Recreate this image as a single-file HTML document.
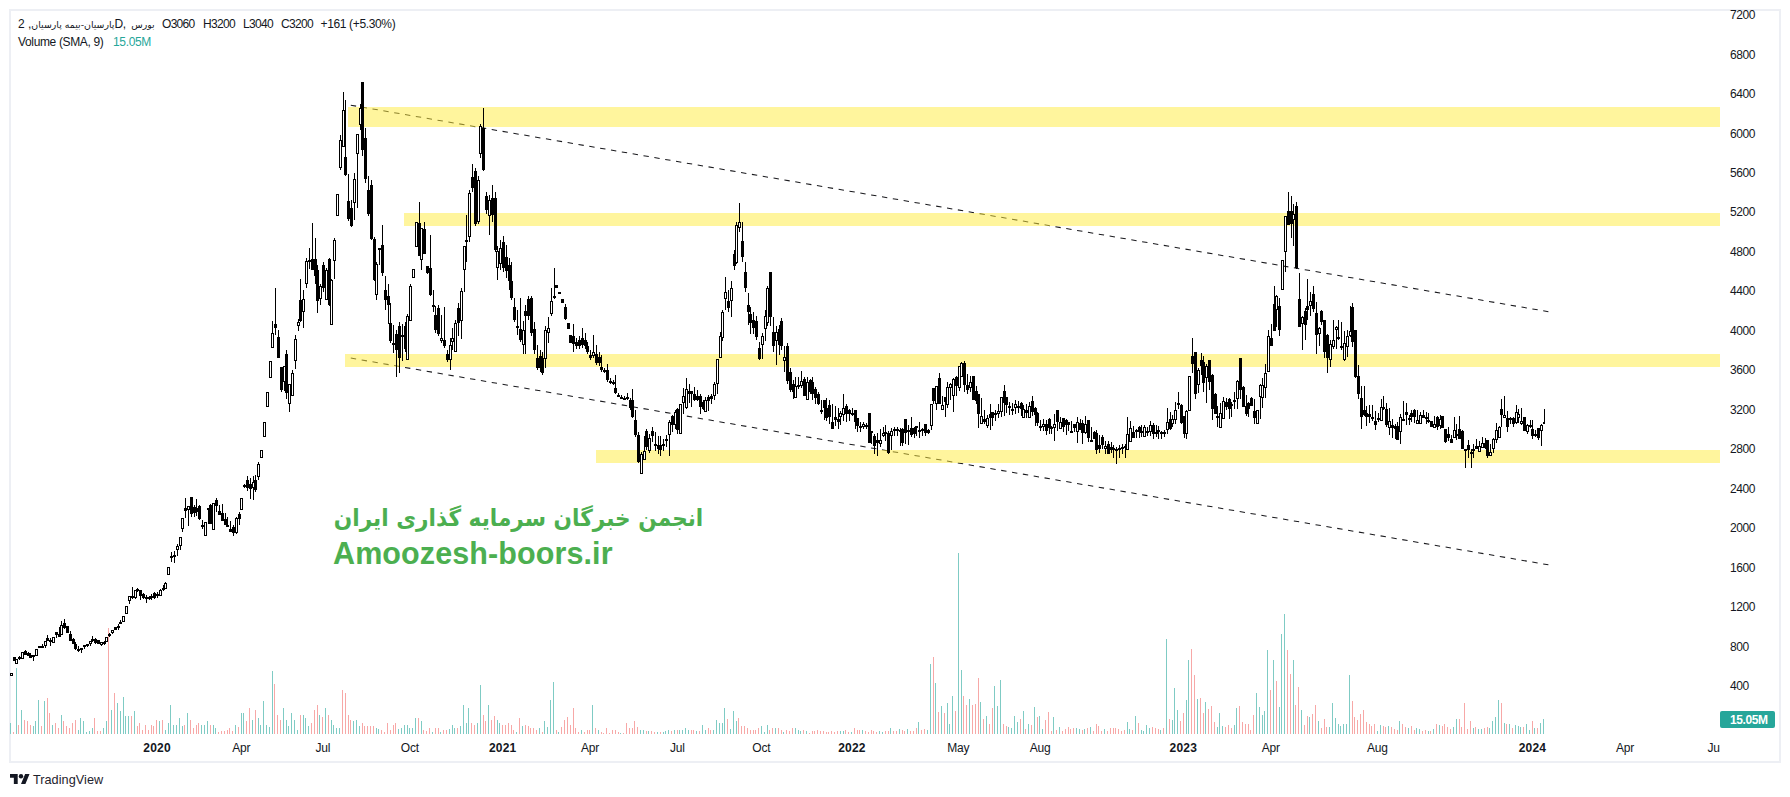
<!DOCTYPE html>
<html lang="fa"><head><meta charset="utf-8"><title>TradingView chart</title>
<style>
html,body{margin:0;padding:0;background:#fff;}
body{width:1790px;height:797px;position:relative;overflow:hidden;font-family:"Liberation Sans","DejaVu Sans",sans-serif;color:#131722;}
#frame{position:absolute;left:9px;top:9px;width:1768px;height:750px;border:2px solid #edeff4;box-sizing:content-box;}
svg#chart{position:absolute;left:0;top:0;}
.pl{position:absolute;left:1730px;width:40px;font-size:12px;line-height:16px;letter-spacing:-0.45px;white-space:nowrap;}
#taxis{position:absolute;left:10px;top:740px;width:1710px;height:20px;overflow:hidden;}
.tl{position:absolute;top:0;width:60px;margin-left:-10px;text-align:center;font-size:12px;line-height:16px;letter-spacing:-0.2px;white-space:nowrap;}
.tl.b{font-weight:bold;letter-spacing:0.2px;}
.lg{position:absolute;font-size:12px;line-height:16px;white-space:nowrap;letter-spacing:-0.35px;}
.lg .fa{font-family:"DejaVu Sans",sans-serif;font-size:9.4px;letter-spacing:0;}
.lg .fa.b2{margin-left:2.5px;}
.lg.nm{letter-spacing:-0.7px;}
#vlab{position:absolute;left:1720px;top:711px;width:55px;height:17px;background:#26a69a;color:#fff;font-size:12px;font-weight:bold;line-height:17px;border-radius:2px;letter-spacing:-0.4px;}
#vlab span{position:absolute;left:10px;top:1px;}
#wm1{position:absolute;left:333px;top:496.9px;transform:scaleY(1.068);transform-origin:0 29.4px;width:370.3px;height:44px;color:#4caf50;font-weight:bold;font-family:"DejaVu Sans","Liberation Sans",sans-serif;font-size:21.65px;line-height:44px;white-space:nowrap;direction:rtl;text-align:right;}
#wm2{position:absolute;left:333px;top:536px;color:#4caf50;font-weight:bold;font-size:30.5px;line-height:34px;white-space:nowrap;letter-spacing:0.1px;}
#tv{position:absolute;left:32.9px;top:772px;font-size:12.7px;line-height:16px;color:#1e222d;white-space:nowrap;letter-spacing:0.05px;}
</style></head><body>
<div id="frame"></div>
<svg id="chart" width="1790" height="797" viewBox="0 0 1790 797">
<line x1="350.8" y1="105.2" x2="1548.4" y2="311.7" stroke="#1a1a1e" stroke-width="1.05" stroke-dasharray="5.4 5.6"/>
<line x1="350.8" y1="358.1" x2="1548.4" y2="564.85" stroke="#1a1a1e" stroke-width="1.05" stroke-dasharray="5.4 5.6"/>
<g shape-rendering="crispEdges">
<path fill="#7fcbc4" d="M10 723h1v11h-1zM16 668h1v66h-1zM21 710h1v24h-1zM33 726h1v8h-1zM35 721h1v13h-1zM38 700h1v34h-1zM44 701h1v33h-1zM52 725h1v9h-1zM61 715h1v19h-1zM78 730h1v4h-1zM80 718h1v16h-1zM83 721h1v13h-1zM86 732h1v2h-1zM89 731h1v3h-1zM92 728h1v6h-1zM103 728h1v6h-1zM106 721h1v13h-1zM111 710h1v24h-1zM117 703h1v31h-1zM120 711h1v23h-1zM123 697h1v37h-1zM125 716h1v18h-1zM128 716h1v18h-1zM134 711h1v23h-1zM159 721h1v13h-1zM165 730h1v4h-1zM168 723h1v11h-1zM170 705h1v29h-1zM173 725h1v9h-1zM176 725h1v9h-1zM179 718h1v16h-1zM182 726h1v8h-1zM187 713h1v21h-1zM201 725h1v9h-1zM204 725h1v9h-1zM207 721h1v13h-1zM213 725h1v9h-1zM215 728h1v6h-1zM235 725h1v9h-1zM241 713h1v21h-1zM243 713h1v21h-1zM252 720h1v14h-1zM258 718h1v16h-1zM260 725h1v9h-1zM263 701h1v33h-1zM266 725h1v9h-1zM269 727h1v7h-1zM272 671h1v63h-1zM283 708h1v26h-1zM286 720h1v14h-1zM288 726h1v8h-1zM291 713h1v21h-1zM294 720h1v14h-1zM297 730h1v4h-1zM303 715h1v19h-1zM305 718h1v16h-1zM308 726h1v8h-1zM319 715h1v19h-1zM325 708h1v26h-1zM331 720h1v14h-1zM333 725h1v9h-1zM336 728h1v6h-1zM339 728h1v6h-1zM353 721h1v13h-1zM356 720h1v14h-1zM359 726h1v8h-1zM376 728h1v6h-1zM378 729h1v5h-1zM398 729h1v5h-1zM401 728h1v6h-1zM404 725h1v9h-1zM407 725h1v9h-1zM409 728h1v6h-1zM412 728h1v6h-1zM415 718h1v16h-1zM421 721h1v13h-1zM432 732h1v2h-1zM440 732h1v2h-1zM449 729h1v5h-1zM452 725h1v9h-1zM454 728h1v6h-1zM460 726h1v8h-1zM463 705h1v29h-1zM466 723h1v11h-1zM468 708h1v26h-1zM477 723h1v11h-1zM480 685h1v49h-1zM488 705h1v29h-1zM497 720h1v14h-1zM499 723h1v11h-1zM516 732h1v2h-1zM522 726h1v8h-1zM539 728h1v6h-1zM544 721h1v13h-1zM547 727h1v7h-1zM550 700h1v34h-1zM553 682h1v52h-1zM558 732h1v2h-1zM581 730h1v4h-1zM592 705h1v29h-1zM598 730h1v4h-1zM620 733h1v1h-1zM640 730h1v4h-1zM643 730h1v4h-1zM648 731h1v3h-1zM657 732h1v2h-1zM663 732h1v2h-1zM665 731h1v3h-1zM668 730h1v4h-1zM674 730h1v4h-1zM679 730h1v4h-1zM682 730h1v4h-1zM685 728h1v6h-1zM688 730h1v4h-1zM696 731h1v3h-1zM702 725h1v9h-1zM705 730h1v4h-1zM713 730h1v4h-1zM716 720h1v14h-1zM719 723h1v11h-1zM722 723h1v11h-1zM724 708h1v26h-1zM730 729h1v5h-1zM733 711h1v23h-1zM736 721h1v13h-1zM761 726h1v8h-1zM764 732h1v2h-1zM767 725h1v9h-1zM775 728h1v6h-1zM783 732h1v2h-1zM795 728h1v6h-1zM798 730h1v4h-1zM800 731h1v3h-1zM806 731h1v3h-1zM840 731h1v3h-1zM843 731h1v3h-1zM851 732h1v2h-1zM862 730h1v4h-1zM879 731h1v3h-1zM882 732h1v2h-1zM890 728h1v6h-1zM899 729h1v5h-1zM907 729h1v5h-1zM918 722h1v12h-1zM927 730h1v4h-1zM930 664h1v70h-1zM935 683h1v51h-1zM941 706h1v28h-1zM947 703h1v31h-1zM949 724h1v10h-1zM952 696h1v38h-1zM958 553h1v181h-1zM961 670h1v64h-1zM969 699h1v35h-1zM980 702h1v32h-1zM986 716h1v18h-1zM994 686h1v48h-1zM997 706h1v28h-1zM1000 680h1v54h-1zM1008 727h1v7h-1zM1011 728h1v6h-1zM1014 716h1v18h-1zM1017 722h1v12h-1zM1023 711h1v23h-1zM1028 724h1v10h-1zM1034 707h1v27h-1zM1039 716h1v18h-1zM1042 729h1v5h-1zM1053 717h1v17h-1zM1059 727h1v7h-1zM1076 728h1v6h-1zM1079 729h1v5h-1zM1084 729h1v5h-1zM1090 727h1v7h-1zM1104 729h1v5h-1zM1127 722h1v12h-1zM1129 729h1v5h-1zM1135 716h1v18h-1zM1141 730h1v4h-1zM1143 731h1v3h-1zM1146 725h1v9h-1zM1149 728h1v6h-1zM1160 730h1v4h-1zM1166 639h1v95h-1zM1172 720h1v14h-1zM1174 688h1v46h-1zM1177 710h1v24h-1zM1186 700h1v34h-1zM1188 660h1v74h-1zM1197 699h1v35h-1zM1205 702h1v32h-1zM1217 727h1v7h-1zM1219 713h1v21h-1zM1222 726h1v8h-1zM1234 725h1v9h-1zM1236 708h1v26h-1zM1256 693h1v41h-1zM1259 707h1v27h-1zM1262 715h1v19h-1zM1264 711h1v23h-1zM1267 650h1v84h-1zM1273 660h1v74h-1zM1279 707h1v27h-1zM1281 634h1v100h-1zM1284 614h1v120h-1zM1293 660h1v74h-1zM1301 710h1v24h-1zM1309 717h1v17h-1zM1318 721h1v13h-1zM1329 727h1v7h-1zM1332 703h1v31h-1zM1335 718h1v16h-1zM1338 724h1v10h-1zM1340 726h1v8h-1zM1343 724h1v10h-1zM1346 724h1v10h-1zM1349 675h1v59h-1zM1377 731h1v3h-1zM1380 725h1v9h-1zM1388 726h1v8h-1zM1399 721h1v13h-1zM1408 728h1v6h-1zM1416 728h1v6h-1zM1419 729h1v5h-1zM1428 731h1v3h-1zM1433 729h1v5h-1zM1439 725h1v9h-1zM1453 727h1v7h-1zM1456 719h1v15h-1zM1473 728h1v6h-1zM1478 729h1v5h-1zM1481 729h1v5h-1zM1489 728h1v6h-1zM1492 721h1v13h-1zM1495 717h1v17h-1zM1498 700h1v34h-1zM1504 723h1v11h-1zM1509 724h1v10h-1zM1515 725h1v9h-1zM1518 726h1v8h-1zM1520 727h1v7h-1zM1526 724h1v10h-1zM1529 730h1v4h-1zM1534 728h1v6h-1zM1540 723h1v11h-1zM1543 719h1v15h-1z"/>
<path fill="#f7a8a7" d="M13 732h1v2h-1zM18 725h1v9h-1zM24 720h1v14h-1zM27 721h1v13h-1zM30 725h1v9h-1zM41 726h1v8h-1zM47 698h1v36h-1zM49 713h1v21h-1zM55 723h1v11h-1zM58 728h1v6h-1zM63 721h1v13h-1zM66 726h1v8h-1zM69 728h1v6h-1zM72 723h1v11h-1zM75 720h1v14h-1zM94 718h1v16h-1zM97 731h1v3h-1zM100 731h1v3h-1zM108 628h1v106h-1zM114 693h1v41h-1zM131 716h1v18h-1zM137 726h1v8h-1zM139 723h1v11h-1zM142 730h1v4h-1zM145 725h1v9h-1zM148 730h1v4h-1zM151 725h1v9h-1zM153 726h1v8h-1zM156 720h1v14h-1zM162 720h1v14h-1zM184 725h1v9h-1zM190 720h1v14h-1zM193 728h1v6h-1zM196 725h1v9h-1zM198 723h1v11h-1zM210 725h1v9h-1zM218 732h1v2h-1zM221 731h1v3h-1zM224 731h1v3h-1zM227 730h1v4h-1zM229 728h1v6h-1zM232 731h1v3h-1zM238 727h1v7h-1zM246 721h1v13h-1zM249 708h1v26h-1zM255 710h1v24h-1zM274 684h1v50h-1zM277 715h1v19h-1zM280 720h1v14h-1zM300 715h1v19h-1zM311 723h1v11h-1zM314 710h1v24h-1zM317 705h1v29h-1zM322 717h1v17h-1zM328 715h1v19h-1zM342 690h1v44h-1zM345 693h1v41h-1zM348 715h1v19h-1zM350 720h1v14h-1zM362 723h1v11h-1zM364 726h1v8h-1zM367 726h1v8h-1zM370 726h1v8h-1zM373 726h1v8h-1zM381 730h1v4h-1zM384 732h1v2h-1zM387 723h1v11h-1zM390 730h1v4h-1zM393 725h1v9h-1zM395 723h1v11h-1zM418 718h1v16h-1zM423 730h1v4h-1zM426 731h1v3h-1zM429 728h1v6h-1zM435 728h1v6h-1zM438 728h1v6h-1zM443 730h1v4h-1zM446 730h1v4h-1zM457 728h1v6h-1zM471 723h1v11h-1zM474 725h1v9h-1zM483 715h1v19h-1zM485 721h1v13h-1zM491 720h1v14h-1zM494 716h1v18h-1zM502 725h1v9h-1zM505 725h1v9h-1zM508 723h1v11h-1zM511 725h1v9h-1zM513 730h1v4h-1zM519 718h1v16h-1zM525 725h1v9h-1zM528 726h1v8h-1zM530 728h1v6h-1zM533 728h1v6h-1zM536 730h1v4h-1zM542 732h1v2h-1zM556 730h1v4h-1zM561 727h1v7h-1zM564 720h1v14h-1zM567 717h1v17h-1zM570 725h1v9h-1zM573 708h1v26h-1zM575 728h1v6h-1zM578 732h1v2h-1zM584 732h1v2h-1zM587 730h1v4h-1zM589 730h1v4h-1zM595 728h1v6h-1zM601 732h1v2h-1zM603 733h1v1h-1zM606 728h1v6h-1zM609 733h1v1h-1zM612 730h1v4h-1zM615 730h1v4h-1zM618 732h1v2h-1zM623 733h1v1h-1zM626 723h1v11h-1zM629 728h1v6h-1zM632 728h1v6h-1zM634 721h1v13h-1zM637 727h1v7h-1zM646 731h1v3h-1zM651 731h1v3h-1zM654 732h1v2h-1zM660 732h1v2h-1zM671 731h1v3h-1zM677 730h1v4h-1zM691 730h1v4h-1zM693 730h1v4h-1zM699 731h1v3h-1zM708 728h1v6h-1zM710 730h1v4h-1zM727 719h1v15h-1zM738 718h1v16h-1zM741 726h1v8h-1zM744 726h1v8h-1zM747 728h1v6h-1zM750 730h1v4h-1zM753 730h1v4h-1zM755 730h1v4h-1zM758 728h1v6h-1zM769 730h1v4h-1zM772 728h1v6h-1zM778 728h1v6h-1zM781 730h1v4h-1zM786 730h1v4h-1zM789 731h1v3h-1zM792 728h1v6h-1zM803 730h1v4h-1zM809 733h1v1h-1zM812 731h1v3h-1zM814 731h1v3h-1zM817 730h1v4h-1zM820 731h1v3h-1zM823 731h1v3h-1zM826 732h1v2h-1zM828 732h1v2h-1zM831 731h1v3h-1zM834 732h1v2h-1zM837 731h1v3h-1zM845 730h1v4h-1zM848 732h1v2h-1zM854 728h1v6h-1zM857 730h1v4h-1zM859 730h1v4h-1zM865 731h1v3h-1zM868 732h1v2h-1zM871 730h1v4h-1zM873 731h1v3h-1zM876 732h1v2h-1zM885 731h1v3h-1zM888 731h1v3h-1zM893 731h1v3h-1zM896 731h1v3h-1zM902 730h1v4h-1zM904 731h1v3h-1zM910 731h1v3h-1zM913 731h1v3h-1zM916 728h1v6h-1zM921 730h1v4h-1zM924 729h1v5h-1zM933 657h1v77h-1zM938 712h1v22h-1zM944 713h1v21h-1zM955 711h1v23h-1zM963 696h1v38h-1zM966 705h1v29h-1zM972 705h1v29h-1zM975 704h1v30h-1zM978 678h1v56h-1zM983 719h1v15h-1zM989 724h1v10h-1zM992 708h1v26h-1zM1003 724h1v10h-1zM1006 726h1v8h-1zM1020 719h1v15h-1zM1025 729h1v5h-1zM1031 725h1v9h-1zM1037 717h1v17h-1zM1045 720h1v14h-1zM1048 712h1v22h-1zM1051 731h1v3h-1zM1056 730h1v4h-1zM1062 731h1v3h-1zM1065 729h1v5h-1zM1068 727h1v7h-1zM1070 729h1v5h-1zM1073 728h1v6h-1zM1082 730h1v4h-1zM1087 728h1v6h-1zM1093 731h1v3h-1zM1096 724h1v10h-1zM1098 726h1v8h-1zM1101 731h1v3h-1zM1107 731h1v3h-1zM1110 728h1v6h-1zM1113 728h1v6h-1zM1115 728h1v6h-1zM1118 729h1v5h-1zM1121 731h1v3h-1zM1124 730h1v4h-1zM1132 730h1v4h-1zM1138 723h1v11h-1zM1152 727h1v7h-1zM1155 728h1v6h-1zM1158 729h1v5h-1zM1163 728h1v6h-1zM1169 719h1v15h-1zM1180 721h1v13h-1zM1183 713h1v21h-1zM1191 649h1v85h-1zM1194 675h1v59h-1zM1200 698h1v36h-1zM1203 713h1v21h-1zM1208 709h1v25h-1zM1211 706h1v28h-1zM1214 722h1v12h-1zM1225 727h1v7h-1zM1228 725h1v9h-1zM1231 728h1v6h-1zM1239 706h1v28h-1zM1242 722h1v12h-1zM1245 724h1v10h-1zM1248 724h1v10h-1zM1250 730h1v4h-1zM1253 715h1v19h-1zM1270 690h1v44h-1zM1276 681h1v53h-1zM1287 650h1v84h-1zM1290 674h1v60h-1zM1295 705h1v29h-1zM1298 687h1v47h-1zM1304 725h1v9h-1zM1307 716h1v18h-1zM1312 714h1v20h-1zM1315 705h1v29h-1zM1321 728h1v6h-1zM1324 719h1v15h-1zM1326 727h1v7h-1zM1352 701h1v33h-1zM1354 717h1v17h-1zM1357 720h1v14h-1zM1360 714h1v20h-1zM1363 710h1v24h-1zM1366 722h1v12h-1zM1369 724h1v10h-1zM1371 726h1v8h-1zM1374 724h1v10h-1zM1383 726h1v8h-1zM1385 727h1v7h-1zM1391 727h1v7h-1zM1394 729h1v5h-1zM1397 730h1v4h-1zM1402 724h1v10h-1zM1405 727h1v7h-1zM1411 726h1v8h-1zM1414 730h1v4h-1zM1422 731h1v3h-1zM1425 730h1v4h-1zM1430 731h1v3h-1zM1436 724h1v10h-1zM1442 726h1v8h-1zM1444 724h1v10h-1zM1447 727h1v7h-1zM1450 729h1v5h-1zM1459 719h1v15h-1zM1461 727h1v7h-1zM1464 703h1v31h-1zM1467 729h1v5h-1zM1470 721h1v13h-1zM1475 727h1v7h-1zM1484 728h1v6h-1zM1487 727h1v7h-1zM1501 703h1v31h-1zM1506 724h1v10h-1zM1512 728h1v6h-1zM1523 727h1v7h-1zM1532 721h1v13h-1zM1537 728h1v6h-1z"/>
<g fill="#ffeb3b" fill-opacity="0.5">
<rect x="348" y="107" width="1372" height="20"/>
<rect x="404" y="213" width="1316" height="13"/>
<rect x="345" y="354" width="1375" height="13"/>
<rect x="596" y="450" width="1124" height="13"/>
</g>
</g>
<g shape-rendering="crispEdges">
<path fill="#000" d="M10 673h1v3h-1zM11 673h1v1h-1zM11 675h1v1h-1zM12 673h1v3h-1zM13 657h1v4h-1zM14 657h1v4h-1zM15 657h1v7h-1zM16 659h1v1h-1zM16 663h1v1h-1zM17 659h1v5h-1zM18 657h1v2h-1zM19 656h1v4h-1zM20 657h1v2h-1zM21 652h1v7h-1zM22 652h1v1h-1zM22 658h1v1h-1zM23 652h1v7h-1zM24 651h1v4h-1zM25 650h1v5h-1zM26 651h1v4h-1zM27 653h1v3h-1zM28 652h1v4h-1zM29 653h1v5h-1zM30 653h1v5h-1zM31 655h1v3h-1zM32 655h1v2h-1zM33 655h1v6h-1zM34 655h1v2h-1zM35 649h1v7h-1zM36 649h1v1h-1zM36 655h1v1h-1zM37 649h1v7h-1zM38 646h1v2h-1zM39 646h1v2h-1zM40 646h1v2h-1zM41 646h1v2h-1zM42 644h1v4h-1zM43 646h1v2h-1zM44 641h1v5h-1zM45 641h1v1h-1zM45 645h1v3h-1zM46 638h1v8h-1zM47 635h1v6h-1zM48 638h1v3h-1zM49 640h1v2h-1zM50 638h1v8h-1zM51 640h1v2h-1zM52 637h1v6h-1zM53 637h1v1h-1zM53 642h1v1h-1zM54 637h1v6h-1zM55 632h1v3h-1zM56 632h1v6h-1zM57 632h1v3h-1zM58 634h1v3h-1zM59 627h1v10h-1zM60 625h1v12h-1zM61 621h1v5h-1zM61 634h1v1h-1zM62 625h1v10h-1zM63 623h1v5h-1zM64 619h1v10h-1zM65 623h1v5h-1zM66 626h1v7h-1zM67 626h1v7h-1zM68 626h1v7h-1zM69 634h1v7h-1zM70 631h1v10h-1zM71 634h1v7h-1zM72 639h1v5h-1zM73 638h1v6h-1zM74 639h1v10h-1zM75 642h1v8h-1zM76 644h1v5h-1zM77 649h1v2h-1zM78 646h1v6h-1zM79 649h1v2h-1zM80 648h1v2h-1zM81 648h1v5h-1zM82 648h1v2h-1zM83 645h1v2h-1zM84 645h1v4h-1zM85 645h1v2h-1zM86 644h1v2h-1zM87 644h1v3h-1zM88 644h1v2h-1zM89 641h1v3h-1zM90 641h1v1h-1zM90 643h1v3h-1zM91 639h1v5h-1zM92 636h1v6h-1zM93 639h1v2h-1zM94 639h1v4h-1zM95 638h1v6h-1zM96 639h1v4h-1zM97 640h1v4h-1zM98 640h1v4h-1zM99 640h1v4h-1zM100 642h1v3h-1zM101 642h1v1h-1zM101 644h1v2h-1zM102 642h1v3h-1zM103 642h1v2h-1zM104 641h1v4h-1zM105 637h1v7h-1zM106 637h1v1h-1zM106 641h1v1h-1zM107 637h1v5h-1zM108 634h1v2h-1zM109 633h1v4h-1zM110 634h1v2h-1zM111 630h1v3h-1zM112 630h1v1h-1zM112 632h1v2h-1zM113 630h1v3h-1zM114 627h1v3h-1zM115 627h1v3h-1zM116 627h1v3h-1zM117 626h1v2h-1zM118 624h1v6h-1zM119 622h1v2h-1zM119 626h1v2h-1zM120 620h1v4h-1zM121 622h1v2h-1zM122 616h1v6h-1zM123 616h1v1h-1zM123 621h1v1h-1zM124 616h1v6h-1zM125 606h1v8h-1zM126 606h1v1h-1zM126 613h1v1h-1zM127 606h1v8h-1zM128 596h1v5h-1zM129 596h1v1h-1zM129 600h1v4h-1zM130 596h1v5h-1zM131 596h1v2h-1zM132 587h1v12h-1zM133 596h1v2h-1zM134 590h1v8h-1zM135 590h1v1h-1zM135 597h1v2h-1zM136 589h1v9h-1zM137 588h1v4h-1zM138 589h1v2h-1zM139 590h1v6h-1zM140 590h1v10h-1zM141 590h1v6h-1zM142 594h1v4h-1zM143 593h1v6h-1zM144 594h1v4h-1zM145 597h1v2h-1zM146 595h1v8h-1zM147 597h1v2h-1zM148 597h1v2h-1zM149 596h1v4h-1zM150 596h1v3h-1zM151 594h1v6h-1zM152 596h1v2h-1zM153 593h1v5h-1zM154 592h1v7h-1zM155 593h1v5h-1zM156 594h1v2h-1zM157 592h1v6h-1zM158 594h1v2h-1zM159 590h1v6h-1zM160 589h1v2h-1zM160 595h1v1h-1zM161 590h1v6h-1zM162 588h1v2h-1zM163 585h1v6h-1zM164 583h1v7h-1zM165 582h1v2h-1zM165 588h1v1h-1zM166 583h1v6h-1zM167 567h1v8h-1zM168 567h1v1h-1zM168 574h1v1h-1zM169 567h1v8h-1zM170 556h1v2h-1zM171 552h1v10h-1zM172 556h1v2h-1zM173 555h1v2h-1zM174 551h1v12h-1zM175 555h1v2h-1zM176 546h1v4h-1zM177 544h1v3h-1zM177 549h1v7h-1zM178 546h1v4h-1zM179 537h1v9h-1zM180 537h1v1h-1zM180 545h1v5h-1zM181 518h1v11h-1zM181 537h1v9h-1zM182 518h1v1h-1zM182 528h1v4h-1zM183 518h1v11h-1zM184 508h1v3h-1zM185 498h1v20h-1zM186 508h1v3h-1zM187 506h1v4h-1zM188 506h1v1h-1zM188 509h1v17h-1zM189 506h1v4h-1zM190 497h1v17h-1zM191 497h1v20h-1zM192 497h1v17h-1zM193 507h1v6h-1zM194 505h1v12h-1zM195 507h1v6h-1zM196 499h1v17h-1zM197 508h1v4h-1zM198 506h1v13h-1zM199 505h1v15h-1zM200 506h1v13h-1zM201 525h1v2h-1zM202 520h1v9h-1zM203 525h1v2h-1zM204 522h1v14h-1zM205 522h1v1h-1zM205 535h1v1h-1zM206 522h1v14h-1zM207 508h1v2h-1zM208 508h1v16h-1zM209 505h1v19h-1zM210 504h1v20h-1zM211 505h1v19h-1zM212 503h1v27h-1zM213 503h1v1h-1zM213 529h1v1h-1zM214 503h1v27h-1zM215 500h1v6h-1zM216 498h1v14h-1zM217 500h1v6h-1zM218 511h1v4h-1zM219 505h1v10h-1zM220 511h1v4h-1zM221 513h1v8h-1zM222 504h1v17h-1zM223 513h1v8h-1zM224 519h1v6h-1zM225 513h1v12h-1zM226 519h1v8h-1zM227 517h1v10h-1zM228 525h1v2h-1zM229 529h1v3h-1zM230 521h1v11h-1zM231 529h1v3h-1zM232 527h1v6h-1zM233 525h1v11h-1zM234 527h1v6h-1zM235 518h1v15h-1zM236 517h1v2h-1zM236 532h1v2h-1zM237 518h1v15h-1zM238 514h1v5h-1zM239 512h1v13h-1zM240 498h1v12h-1zM240 514h1v5h-1zM241 498h1v1h-1zM241 509h1v1h-1zM242 498h1v12h-1zM243 485h1v2h-1zM244 484h1v4h-1zM245 485h1v2h-1zM246 480h1v8h-1zM247 476h1v15h-1zM248 480h1v8h-1zM249 484h1v5h-1zM250 478h1v21h-1zM251 484h1v5h-1zM252 482h1v6h-1zM253 476h1v7h-1zM253 487h1v13h-1zM254 480h1v10h-1zM255 475h1v17h-1zM256 480h1v10h-1zM257 464h1v13h-1zM258 462h1v3h-1zM258 476h1v4h-1zM259 464h1v13h-1zM260 450h1v8h-1zM261 450h1v1h-1zM261 457h1v1h-1zM262 450h1v8h-1zM263 422h1v15h-1zM264 422h1v1h-1zM264 436h1v1h-1zM265 422h1v15h-1zM266 392h1v15h-1zM267 392h1v1h-1zM267 406h1v1h-1zM268 392h1v15h-1zM269 361h1v17h-1zM270 361h1v1h-1zM270 377h1v1h-1zM271 333h1v15h-1zM271 361h1v17h-1zM272 321h1v13h-1zM272 347h1v1h-1zM273 333h1v15h-1zM274 324h1v4h-1zM275 288h1v47h-1zM276 324h1v4h-1zM277 337h1v21h-1zM278 330h1v28h-1zM279 337h1v21h-1zM280 367h1v23h-1zM281 367h1v25h-1zM282 367h1v23h-1zM283 366h1v16h-1zM284 366h1v1h-1zM284 381h1v10h-1zM285 354h1v39h-1zM286 350h1v49h-1zM287 354h1v39h-1zM288 384h1v20h-1zM289 384h1v1h-1zM289 403h1v9h-1zM290 384h1v20h-1zM291 373h1v23h-1zM292 370h1v4h-1zM292 395h1v1h-1zM293 373h1v23h-1zM294 339h1v22h-1zM295 335h1v5h-1zM295 360h1v9h-1zM296 339h1v22h-1zM297 322h1v4h-1zM298 319h1v4h-1zM298 325h1v6h-1zM299 300h1v21h-1zM299 322h1v4h-1zM300 279h1v43h-1zM301 300h1v21h-1zM302 299h1v13h-1zM303 290h1v10h-1zM303 311h1v17h-1zM304 299h1v13h-1zM305 261h1v23h-1zM306 258h1v4h-1zM306 283h1v5h-1zM307 261h1v23h-1zM308 260h1v2h-1zM309 248h1v21h-1zM310 260h1v2h-1zM311 259h1v11h-1zM312 223h1v47h-1zM313 259h1v11h-1zM314 259h1v17h-1zM315 238h1v46h-1zM316 259h1v42h-1zM317 265h1v48h-1zM318 270h1v31h-1zM319 286h1v13h-1zM320 284h1v3h-1zM320 298h1v7h-1zM321 286h1v13h-1zM322 265h1v23h-1zM323 262h1v30h-1zM324 265h1v23h-1zM325 270h1v30h-1zM326 268h1v3h-1zM326 299h1v1h-1zM327 270h1v30h-1zM328 259h1v46h-1zM329 258h1v48h-1zM330 259h1v66h-1zM331 279h1v2h-1zM331 324h1v1h-1zM332 280h1v45h-1zM333 240h1v21h-1zM334 238h1v3h-1zM334 260h1v19h-1zM335 240h1v21h-1zM336 194h1v22h-1zM337 194h1v1h-1zM337 215h1v1h-1zM338 194h1v22h-1zM339 140h1v28h-1zM340 135h1v6h-1zM340 167h1v3h-1zM341 140h1v28h-1zM342 110h1v37h-1zM343 92h1v19h-1zM343 146h1v1h-1zM344 110h1v37h-1zM344 157h1v18h-1zM345 100h1v76h-1zM346 157h1v18h-1zM347 201h1v18h-1zM348 174h1v47h-1zM349 201h1v18h-1zM350 208h1v18h-1zM351 200h1v27h-1zM352 208h1v18h-1zM353 179h1v24h-1zM354 173h1v7h-1zM354 202h1v18h-1zM355 179h1v24h-1zM356 134h1v20h-1zM357 134h1v1h-1zM357 153h1v55h-1zM358 134h1v20h-1zM359 108h1v17h-1zM360 104h1v5h-1zM360 124h1v6h-1zM361 82h1v68h-1zM362 82h1v74h-1zM363 82h1v68h-1zM364 138h1v41h-1zM365 128h1v55h-1zM366 138h1v41h-1zM367 190h1v24h-1zM368 176h1v40h-1zM369 190h1v24h-1zM370 185h1v54h-1zM371 180h1v60h-1zM372 185h1v54h-1zM373 239h1v41h-1zM374 237h1v44h-1zM375 239h1v56h-1zM376 262h1v3h-1zM376 294h1v6h-1zM377 264h1v31h-1zM378 248h1v2h-1zM379 248h1v17h-1zM380 248h1v2h-1zM381 245h1v28h-1zM382 225h1v51h-1zM383 245h1v28h-1zM384 290h1v10h-1zM385 276h1v34h-1zM386 290h1v10h-1zM387 296h1v9h-1zM388 284h1v40h-1zM389 296h1v9h-1zM389 323h1v18h-1zM390 303h1v40h-1zM391 323h1v18h-1zM392 343h1v2h-1zM393 325h1v28h-1zM394 343h1v2h-1zM395 334h1v16h-1zM396 330h1v47h-1zM397 334h1v16h-1zM398 326h1v32h-1zM399 322h1v51h-1zM400 326h1v32h-1zM401 335h1v2h-1zM402 324h1v37h-1zM403 335h1v2h-1zM404 326h1v23h-1zM405 322h1v30h-1zM406 316h1v44h-1zM407 314h1v3h-1zM407 359h1v1h-1zM408 316h1v44h-1zM409 286h1v35h-1zM410 284h1v3h-1zM410 320h1v1h-1zM411 286h1v35h-1zM412 269h1v9h-1zM413 269h1v1h-1zM413 277h1v1h-1zM414 269h1v9h-1zM415 222h1v25h-1zM416 222h1v1h-1zM416 246h1v1h-1zM417 222h1v25h-1zM418 223h1v33h-1zM419 202h1v54h-1zM420 223h1v37h-1zM421 228h1v1h-1zM421 259h1v11h-1zM422 228h1v32h-1zM423 229h1v25h-1zM424 222h1v32h-1zM425 229h1v25h-1zM426 266h1v7h-1zM427 266h1v8h-1zM428 266h1v7h-1zM429 268h1v27h-1zM430 235h1v61h-1zM431 268h1v27h-1zM432 305h1v2h-1zM433 290h1v22h-1zM434 305h1v2h-1zM434 315h1v15h-1zM435 306h1v27h-1zM436 315h1v15h-1zM437 308h1v26h-1zM438 305h1v31h-1zM439 308h1v26h-1zM440 338h1v3h-1zM441 315h1v24h-1zM441 340h1v3h-1zM442 338h1v3h-1zM443 340h1v6h-1zM444 307h1v41h-1zM445 340h1v6h-1zM446 354h1v6h-1zM447 350h1v12h-1zM448 354h1v6h-1zM449 345h1v15h-1zM450 338h1v8h-1zM450 359h1v11h-1zM451 338h1v4h-1zM451 345h1v15h-1zM452 328h1v11h-1zM452 341h1v9h-1zM453 338h1v4h-1zM454 323h1v29h-1zM455 320h1v4h-1zM455 351h1v1h-1zM456 323h1v29h-1zM457 308h1v15h-1zM458 303h1v33h-1zM459 308h1v15h-1zM460 291h1v30h-1zM461 288h1v4h-1zM461 320h1v19h-1zM462 291h1v30h-1zM463 246h1v24h-1zM464 246h1v1h-1zM464 269h1v23h-1zM465 240h1v2h-1zM465 246h1v24h-1zM466 215h1v47h-1zM467 240h1v2h-1zM468 193h1v44h-1zM469 190h1v4h-1zM469 236h1v6h-1zM470 193h1v44h-1zM471 177h1v11h-1zM472 164h1v28h-1zM473 177h1v11h-1zM474 171h1v53h-1zM475 168h1v58h-1zM476 171h1v53h-1zM477 180h1v42h-1zM478 176h1v5h-1zM478 221h1v3h-1zM479 126h1v28h-1zM479 180h1v42h-1zM480 124h1v3h-1zM480 153h1v5h-1zM481 126h1v28h-1zM482 128h1v42h-1zM483 108h1v63h-1zM484 128h1v42h-1zM485 196h1v14h-1zM486 192h1v22h-1zM487 196h1v14h-1zM488 200h1v16h-1zM489 195h1v6h-1zM489 215h1v20h-1zM490 200h1v16h-1zM491 198h1v17h-1zM492 185h1v37h-1zM493 198h1v17h-1zM494 198h1v52h-1zM495 192h1v60h-1zM496 198h1v52h-1zM496 251h1v17h-1zM497 246h1v6h-1zM497 267h1v13h-1zM498 251h1v17h-1zM499 248h1v16h-1zM500 240h1v9h-1zM500 263h1v7h-1zM501 248h1v16h-1zM502 242h1v26h-1zM503 236h1v36h-1zM504 242h1v26h-1zM505 257h1v14h-1zM506 245h1v33h-1zM507 257h1v14h-1zM508 265h1v16h-1zM509 258h1v32h-1zM510 265h1v33h-1zM511 262h1v38h-1zM512 281h1v17h-1zM513 307h1v13h-1zM514 298h1v24h-1zM515 307h1v13h-1zM516 326h1v2h-1zM517 310h1v25h-1zM518 326h1v2h-1zM519 329h1v11h-1zM520 298h1v44h-1zM521 329h1v11h-1zM522 330h1v15h-1zM523 321h1v10h-1zM523 344h1v10h-1zM524 311h1v5h-1zM524 330h1v15h-1zM525 305h1v49h-1zM526 311h1v5h-1zM527 299h1v17h-1zM528 296h1v24h-1zM529 299h1v17h-1zM530 298h1v35h-1zM531 296h1v40h-1zM532 298h1v35h-1zM533 329h1v21h-1zM534 322h1v32h-1zM535 329h1v21h-1zM536 358h1v10h-1zM537 345h1v25h-1zM538 358h1v10h-1zM539 356h1v12h-1zM540 350h1v22h-1zM541 356h1v17h-1zM542 352h1v23h-1zM543 358h1v15h-1zM544 330h1v29h-1zM545 326h1v5h-1zM545 358h1v10h-1zM546 330h1v29h-1zM547 328h1v5h-1zM548 317h1v12h-1zM548 332h1v11h-1zM549 328h1v5h-1zM550 301h1v13h-1zM551 288h1v14h-1zM551 313h1v3h-1zM552 301h1v13h-1zM553 296h1v2h-1zM554 268h1v31h-1zM555 285h1v3h-1zM555 296h1v2h-1zM556 285h1v3h-1zM557 285h1v3h-1zM558 292h1v2h-1zM559 292h1v2h-1zM560 292h1v2h-1zM561 299h1v4h-1zM562 299h1v4h-1zM563 299h1v4h-1zM564 307h1v12h-1zM565 304h1v16h-1zM566 307h1v12h-1zM567 323h1v6h-1zM568 323h1v6h-1zM569 323h1v6h-1zM569 335h1v8h-1zM570 335h1v8h-1zM571 335h1v8h-1zM572 336h1v8h-1zM573 324h1v28h-1zM574 336h1v8h-1zM575 342h1v4h-1zM576 338h1v11h-1zM577 342h1v4h-1zM578 340h1v6h-1zM579 336h1v13h-1zM580 340h1v6h-1zM581 338h1v7h-1zM582 328h1v20h-1zM583 338h1v7h-1zM584 340h1v6h-1zM585 333h1v16h-1zM586 340h1v12h-1zM587 342h1v12h-1zM588 346h1v6h-1zM589 355h1v3h-1zM590 350h1v10h-1zM591 355h1v3h-1zM592 352h1v4h-1zM593 335h1v18h-1zM593 355h1v3h-1zM594 352h1v4h-1zM595 354h1v9h-1zM596 345h1v20h-1zM597 354h1v9h-1zM598 357h1v6h-1zM599 352h1v14h-1zM600 357h1v6h-1zM600 367h1v3h-1zM601 355h1v17h-1zM602 367h1v3h-1zM603 370h1v2h-1zM604 368h1v5h-1zM605 370h1v2h-1zM606 370h1v10h-1zM607 364h1v18h-1zM608 370h1v10h-1zM609 381h1v2h-1zM610 378h1v6h-1zM611 381h1v2h-1zM612 382h1v2h-1zM613 380h1v5h-1zM614 382h1v2h-1zM614 388h1v5h-1zM615 375h1v19h-1zM616 388h1v5h-1zM617 395h1v2h-1zM618 393h1v4h-1zM619 395h1v2h-1zM620 397h1v2h-1zM621 395h1v4h-1zM622 397h1v2h-1zM623 398h1v2h-1zM624 396h1v4h-1zM625 398h1v2h-1zM626 397h1v2h-1zM627 393h1v7h-1zM628 397h1v2h-1zM629 400h1v8h-1zM630 398h1v12h-1zM631 400h1v17h-1zM632 389h1v29h-1zM633 400h1v17h-1zM634 420h1v15h-1zM635 410h1v27h-1zM636 420h1v15h-1zM637 435h1v27h-1zM638 432h1v31h-1zM639 435h1v27h-1zM640 454h1v20h-1zM641 452h1v3h-1zM641 473h1v1h-1zM642 454h1v20h-1zM643 451h1v9h-1zM644 436h1v16h-1zM644 459h1v1h-1zM645 431h1v16h-1zM645 451h1v9h-1zM646 429h1v21h-1zM647 431h1v16h-1zM648 438h1v13h-1zM649 434h1v5h-1zM649 450h1v3h-1zM650 438h1v13h-1zM651 431h1v5h-1zM652 427h1v15h-1zM653 431h1v5h-1zM654 444h1v2h-1zM655 432h1v19h-1zM656 444h1v2h-1zM657 445h1v4h-1zM658 436h1v18h-1zM659 445h1v5h-1zM660 436h1v20h-1zM661 445h1v5h-1zM662 444h1v2h-1zM663 439h1v12h-1zM664 444h1v2h-1zM665 439h1v2h-1zM666 435h1v12h-1zM667 439h1v2h-1zM668 422h1v13h-1zM669 420h1v3h-1zM669 434h1v22h-1zM670 422h1v13h-1zM671 416h1v9h-1zM672 415h1v17h-1zM673 416h1v9h-1zM674 412h1v13h-1zM675 410h1v3h-1zM675 424h1v5h-1zM676 409h1v21h-1zM677 408h1v26h-1zM678 409h1v21h-1zM679 404h1v30h-1zM680 404h1v1h-1zM680 433h1v1h-1zM681 404h1v30h-1zM682 396h1v7h-1zM683 388h1v9h-1zM683 402h1v12h-1zM684 396h1v7h-1zM685 389h1v19h-1zM686 378h1v12h-1zM686 407h1v2h-1zM687 389h1v19h-1zM688 391h1v3h-1zM689 384h1v19h-1zM690 391h1v3h-1zM691 391h1v16h-1zM692 391h1v3h-1zM693 394h1v6h-1zM694 387h1v14h-1zM695 394h1v6h-1zM696 396h1v4h-1zM697 390h1v11h-1zM698 396h1v4h-1zM699 396h1v11h-1zM700 394h1v20h-1zM701 396h1v11h-1zM702 402h1v7h-1zM703 400h1v10h-1zM704 400h1v12h-1zM705 397h1v4h-1zM705 411h1v1h-1zM706 400h1v12h-1zM707 397h1v4h-1zM708 395h1v16h-1zM709 397h1v4h-1zM710 396h1v3h-1zM711 394h1v10h-1zM712 396h1v3h-1zM713 384h1v12h-1zM714 382h1v3h-1zM714 395h1v5h-1zM715 384h1v12h-1zM716 359h1v25h-1zM717 359h1v1h-1zM717 383h1v11h-1zM718 359h1v25h-1zM719 336h1v22h-1zM720 332h1v5h-1zM720 357h1v1h-1zM721 312h1v46h-1zM722 310h1v3h-1zM722 337h1v4h-1zM723 312h1v26h-1zM724 292h1v7h-1zM725 277h1v16h-1zM725 298h1v12h-1zM726 292h1v7h-1zM727 301h1v7h-1zM728 290h1v22h-1zM729 301h1v7h-1zM730 288h1v13h-1zM731 281h1v8h-1zM731 300h1v17h-1zM732 288h1v13h-1zM733 254h1v12h-1zM734 250h1v20h-1zM735 225h1v41h-1zM736 222h1v4h-1zM736 262h1v2h-1zM737 225h1v38h-1zM738 222h1v6h-1zM739 203h1v20h-1zM739 227h1v5h-1zM740 222h1v6h-1zM741 241h1v16h-1zM742 222h1v40h-1zM743 241h1v16h-1zM744 272h1v16h-1zM745 262h1v30h-1zM746 272h1v16h-1zM747 305h1v7h-1zM748 293h1v32h-1zM749 305h1v7h-1zM749 314h1v9h-1zM750 307h1v27h-1zM751 314h1v9h-1zM752 320h1v8h-1zM753 312h1v22h-1zM754 320h1v8h-1zM755 321h1v16h-1zM756 316h1v24h-1zM757 321h1v16h-1zM758 348h1v11h-1zM759 342h1v18h-1zM760 348h1v11h-1zM761 336h1v9h-1zM762 333h1v4h-1zM762 344h1v15h-1zM763 336h1v9h-1zM764 316h1v13h-1zM765 310h1v7h-1zM765 328h1v13h-1zM766 288h1v41h-1zM767 286h1v3h-1zM767 322h1v4h-1zM768 288h1v35h-1zM769 272h1v45h-1zM770 272h1v54h-1zM771 272h1v45h-1zM772 332h1v14h-1zM773 317h1v35h-1zM774 332h1v14h-1zM775 332h1v9h-1zM776 326h1v7h-1zM776 340h1v25h-1zM777 332h1v9h-1zM778 329h1v16h-1zM779 325h1v30h-1zM780 321h1v25h-1zM781 318h1v32h-1zM782 321h1v25h-1zM783 357h1v4h-1zM784 346h1v12h-1zM784 360h1v12h-1zM785 357h1v4h-1zM786 346h1v35h-1zM787 343h1v41h-1zM788 346h1v35h-1zM789 372h1v18h-1zM790 368h1v24h-1zM791 372h1v18h-1zM792 384h1v8h-1zM793 380h1v19h-1zM794 384h1v14h-1zM795 377h1v10h-1zM795 397h1v1h-1zM796 386h1v12h-1zM797 385h1v2h-1zM798 377h1v12h-1zM799 385h1v2h-1zM800 381h1v5h-1zM801 371h1v11h-1zM801 385h1v3h-1zM802 381h1v5h-1zM803 379h1v17h-1zM804 377h1v19h-1zM805 379h1v17h-1zM806 382h1v18h-1zM807 377h1v6h-1zM807 399h1v1h-1zM808 382h1v18h-1zM809 380h1v12h-1zM810 379h1v15h-1zM811 380h1v14h-1zM812 377h1v23h-1zM813 382h1v12h-1zM814 389h1v9h-1zM815 387h1v17h-1zM816 389h1v9h-1zM817 394h1v10h-1zM818 392h1v13h-1zM819 394h1v10h-1zM820 410h1v2h-1zM821 400h1v14h-1zM822 410h1v2h-1zM823 400h1v8h-1zM824 400h1v20h-1zM825 400h1v18h-1zM826 398h1v23h-1zM827 408h1v10h-1zM828 405h1v12h-1zM829 400h1v24h-1zM830 405h1v12h-1zM831 422h1v7h-1zM832 404h1v25h-1zM833 422h1v7h-1zM834 417h1v3h-1zM835 406h1v20h-1zM836 417h1v3h-1zM837 419h1v3h-1zM838 408h1v21h-1zM839 413h1v4h-1zM839 419h1v3h-1zM840 411h1v3h-1zM840 416h1v9h-1zM841 413h1v4h-1zM842 408h1v7h-1zM843 394h1v15h-1zM843 414h1v7h-1zM844 408h1v7h-1zM845 406h1v8h-1zM846 404h1v18h-1zM847 406h1v8h-1zM848 410h1v4h-1zM849 409h1v12h-1zM850 410h1v4h-1zM851 413h1v2h-1zM852 408h1v8h-1zM853 413h1v2h-1zM854 410h1v12h-1zM855 410h1v19h-1zM856 410h1v16h-1zM857 418h1v14h-1zM858 418h1v8h-1zM859 426h1v2h-1zM860 422h1v10h-1zM861 426h1v2h-1zM862 424h1v3h-1zM863 422h1v3h-1zM863 426h1v3h-1zM864 424h1v3h-1zM865 425h1v2h-1zM866 423h1v6h-1zM867 425h1v2h-1zM868 413h1v30h-1zM869 413h1v30h-1zM870 413h1v30h-1zM871 431h1v13h-1zM872 431h1v2h-1zM873 436h1v10h-1zM874 434h1v20h-1zM875 436h1v10h-1zM876 440h1v3h-1zM877 433h1v23h-1zM878 440h1v3h-1zM879 440h1v4h-1zM880 429h1v12h-1zM880 443h1v4h-1zM881 440h1v4h-1zM882 433h1v3h-1zM883 427h1v7h-1zM883 435h1v2h-1zM884 432h1v4h-1zM885 425h1v16h-1zM886 432h1v2h-1zM887 433h1v20h-1zM888 431h1v23h-1zM889 433h1v20h-1zM890 431h1v5h-1zM891 428h1v4h-1zM891 435h1v15h-1zM892 431h1v5h-1zM893 429h1v2h-1zM894 427h1v9h-1zM895 429h1v2h-1zM896 429h1v2h-1zM897 427h1v9h-1zM898 429h1v2h-1zM899 430h1v2h-1zM900 428h1v18h-1zM901 429h1v14h-1zM902 428h1v18h-1zM903 429h1v14h-1zM904 419h1v14h-1zM905 419h1v25h-1zM906 419h1v14h-1zM907 430h1v2h-1zM908 425h1v20h-1zM909 430h1v2h-1zM910 428h1v7h-1zM911 417h1v20h-1zM912 428h1v7h-1zM913 428h1v6h-1zM914 427h1v11h-1zM915 426h1v8h-1zM916 426h1v10h-1zM917 426h1v2h-1zM918 430h1v2h-1zM919 422h1v16h-1zM920 430h1v2h-1zM921 429h1v2h-1zM922 428h1v8h-1zM923 429h1v2h-1zM924 424h1v9h-1zM925 424h1v12h-1zM926 424h1v9h-1zM927 430h1v3h-1zM928 429h1v5h-1zM929 430h1v3h-1zM930 404h1v22h-1zM931 404h1v1h-1zM931 425h1v5h-1zM932 388h1v13h-1zM932 404h1v22h-1zM933 388h1v16h-1zM934 388h1v13h-1zM935 386h1v18h-1zM936 386h1v1h-1zM936 403h1v7h-1zM937 386h1v18h-1zM938 378h1v26h-1zM939 373h1v31h-1zM940 378h1v26h-1zM941 405h1v5h-1zM942 396h1v10h-1zM942 409h1v1h-1zM943 405h1v5h-1zM944 397h1v5h-1zM945 397h1v20h-1zM946 387h1v18h-1zM947 382h1v6h-1zM947 404h1v4h-1zM948 387h1v18h-1zM949 384h1v4h-1zM950 383h1v2h-1zM950 387h1v13h-1zM951 384h1v4h-1zM952 379h1v17h-1zM953 378h1v2h-1zM953 395h1v17h-1zM954 379h1v17h-1zM955 377h1v9h-1zM956 376h1v20h-1zM957 377h1v9h-1zM958 366h1v22h-1zM959 366h1v1h-1zM959 387h1v4h-1zM960 363h1v25h-1zM961 362h1v2h-1zM961 376h1v1h-1zM962 363h1v14h-1zM963 363h1v22h-1zM964 361h1v31h-1zM965 363h1v22h-1zM966 385h1v5h-1zM967 374h1v20h-1zM968 385h1v5h-1zM969 382h1v6h-1zM970 376h1v7h-1zM970 387h1v5h-1zM971 382h1v6h-1zM972 376h1v24h-1zM973 376h1v24h-1zM974 376h1v24h-1zM975 391h1v10h-1zM976 386h1v18h-1zM977 391h1v23h-1zM978 394h1v34h-1zM979 394h1v20h-1zM980 416h1v8h-1zM981 398h1v19h-1zM981 423h1v1h-1zM982 416h1v8h-1zM983 419h1v3h-1zM984 410h1v14h-1zM985 419h1v3h-1zM986 418h1v8h-1zM987 415h1v4h-1zM987 425h1v3h-1zM988 418h1v8h-1zM989 414h1v4h-1zM990 404h1v26h-1zM991 412h1v6h-1zM992 412h1v14h-1zM993 412h1v6h-1zM994 413h1v2h-1zM995 410h1v11h-1zM996 413h1v2h-1zM997 411h1v3h-1zM998 404h1v8h-1zM998 413h1v5h-1zM999 411h1v3h-1zM1000 397h1v15h-1zM1001 397h1v1h-1zM1001 411h1v6h-1zM1002 397h1v15h-1zM1003 391h1v12h-1zM1004 385h1v31h-1zM1005 391h1v14h-1zM1006 397h1v16h-1zM1007 397h1v8h-1zM1008 406h1v2h-1zM1009 402h1v13h-1zM1010 406h1v2h-1zM1011 409h1v2h-1zM1012 403h1v12h-1zM1013 409h1v2h-1zM1014 404h1v4h-1zM1015 400h1v5h-1zM1015 407h1v7h-1zM1016 404h1v4h-1zM1017 406h1v2h-1zM1018 401h1v12h-1zM1019 406h1v2h-1zM1020 403h1v6h-1zM1021 402h1v14h-1zM1022 403h1v15h-1zM1023 405h1v5h-1zM1023 417h1v1h-1zM1024 409h1v9h-1zM1025 410h1v3h-1zM1026 404h1v14h-1zM1027 410h1v3h-1zM1028 406h1v12h-1zM1029 402h1v5h-1zM1029 417h1v1h-1zM1030 406h1v12h-1zM1031 401h1v11h-1zM1032 396h1v20h-1zM1033 401h1v11h-1zM1034 408h1v7h-1zM1035 407h1v19h-1zM1036 408h1v15h-1zM1037 412h1v14h-1zM1038 413h1v10h-1zM1039 426h1v2h-1zM1040 420h1v11h-1zM1041 426h1v2h-1zM1042 424h1v3h-1zM1043 419h1v6h-1zM1043 426h1v5h-1zM1044 424h1v3h-1zM1045 424h1v7h-1zM1046 420h1v15h-1zM1047 424h1v7h-1zM1048 419h1v9h-1zM1049 418h1v16h-1zM1050 419h1v10h-1zM1051 426h1v8h-1zM1052 427h1v2h-1zM1053 424h1v4h-1zM1054 414h1v11h-1zM1054 427h1v14h-1zM1055 424h1v4h-1zM1056 410h1v12h-1zM1057 410h1v21h-1zM1058 410h1v12h-1zM1059 422h1v7h-1zM1060 417h1v6h-1zM1060 428h1v1h-1zM1061 422h1v7h-1zM1062 418h1v9h-1zM1063 418h1v14h-1zM1064 418h1v9h-1zM1065 420h1v5h-1zM1066 419h1v16h-1zM1067 420h1v5h-1zM1068 422h1v9h-1zM1069 422h1v3h-1zM1070 431h1v2h-1zM1071 421h1v12h-1zM1072 431h1v2h-1zM1073 424h1v4h-1zM1074 424h1v8h-1zM1075 424h1v4h-1zM1076 422h1v10h-1zM1077 417h1v6h-1zM1077 431h1v12h-1zM1078 422h1v10h-1zM1079 423h1v7h-1zM1080 419h1v11h-1zM1081 423h1v10h-1zM1082 420h1v24h-1zM1083 423h1v10h-1zM1084 424h1v9h-1zM1085 416h1v9h-1zM1085 432h1v2h-1zM1086 424h1v9h-1zM1087 420h1v18h-1zM1088 420h1v22h-1zM1089 420h1v18h-1zM1090 440h1v2h-1zM1091 427h1v15h-1zM1092 440h1v2h-1zM1093 432h1v7h-1zM1094 431h1v8h-1zM1095 432h1v18h-1zM1096 430h1v24h-1zM1097 433h1v17h-1zM1098 445h1v4h-1zM1099 435h1v18h-1zM1100 445h1v4h-1zM1101 437h1v8h-1zM1102 435h1v14h-1zM1103 437h1v8h-1zM1104 446h1v3h-1zM1105 441h1v6h-1zM1105 448h1v6h-1zM1106 446h1v3h-1zM1107 444h1v10h-1zM1108 441h1v13h-1zM1109 444h1v10h-1zM1110 447h1v3h-1zM1111 442h1v11h-1zM1112 447h1v3h-1zM1113 445h1v13h-1zM1114 448h1v2h-1zM1115 449h1v2h-1zM1116 447h1v17h-1zM1117 449h1v2h-1zM1118 448h1v2h-1zM1119 445h1v13h-1zM1120 448h1v2h-1zM1121 447h1v2h-1zM1122 444h1v10h-1zM1123 447h1v2h-1zM1124 446h1v2h-1zM1125 444h1v14h-1zM1126 434h1v16h-1zM1127 417h1v18h-1zM1127 449h1v1h-1zM1128 434h1v16h-1zM1129 428h1v14h-1zM1130 421h1v8h-1zM1130 441h1v1h-1zM1131 428h1v14h-1zM1132 432h1v6h-1zM1133 426h1v12h-1zM1134 432h1v6h-1zM1135 430h1v2h-1zM1136 429h1v9h-1zM1137 430h1v2h-1zM1138 427h1v5h-1zM1139 426h1v12h-1zM1140 427h1v6h-1zM1141 425h1v12h-1zM1142 431h1v2h-1zM1143 427h1v10h-1zM1144 425h1v3h-1zM1144 436h1v1h-1zM1145 427h1v10h-1zM1146 431h1v2h-1zM1147 427h1v9h-1zM1148 431h1v2h-1zM1149 425h1v7h-1zM1150 421h1v5h-1zM1150 431h1v5h-1zM1151 425h1v7h-1zM1152 425h1v9h-1zM1153 423h1v16h-1zM1154 425h1v9h-1zM1155 432h1v2h-1zM1156 425h1v12h-1zM1157 430h1v4h-1zM1158 426h1v13h-1zM1159 430h1v2h-1zM1160 432h1v2h-1zM1161 431h1v8h-1zM1162 432h1v2h-1zM1163 432h1v2h-1zM1164 430h1v7h-1zM1165 432h1v2h-1zM1166 422h1v8h-1zM1167 408h1v15h-1zM1167 429h1v5h-1zM1168 422h1v8h-1zM1169 419h1v10h-1zM1170 412h1v18h-1zM1171 419h1v10h-1zM1172 415h1v5h-1zM1172 423h1v4h-1zM1173 419h1v5h-1zM1174 410h1v10h-1zM1175 402h1v9h-1zM1175 419h1v5h-1zM1176 410h1v10h-1zM1177 403h1v2h-1zM1178 392h1v17h-1zM1179 403h1v2h-1zM1180 405h1v18h-1zM1181 404h1v20h-1zM1182 405h1v18h-1zM1183 416h1v18h-1zM1184 416h1v22h-1zM1185 411h1v23h-1zM1186 410h1v2h-1zM1186 433h1v6h-1zM1187 411h1v23h-1zM1188 376h1v35h-1zM1189 376h1v1h-1zM1189 410h1v1h-1zM1190 376h1v35h-1zM1191 356h1v8h-1zM1192 338h1v35h-1zM1193 356h1v8h-1zM1194 352h1v42h-1zM1195 352h1v47h-1zM1196 352h1v42h-1zM1197 370h1v15h-1zM1198 368h1v3h-1zM1198 384h1v9h-1zM1199 370h1v15h-1zM1200 360h1v6h-1zM1201 353h1v22h-1zM1202 360h1v23h-1zM1203 356h1v36h-1zM1204 362h1v21h-1zM1205 366h1v12h-1zM1206 364h1v3h-1zM1206 377h1v26h-1zM1207 366h1v12h-1zM1208 360h1v22h-1zM1209 360h1v30h-1zM1210 360h1v22h-1zM1211 375h1v34h-1zM1212 374h1v46h-1zM1213 375h1v34h-1zM1214 394h1v20h-1zM1215 393h1v21h-1zM1216 394h1v20h-1zM1216 416h1v2h-1zM1217 406h1v21h-1zM1218 416h1v2h-1zM1219 413h1v15h-1zM1220 403h1v11h-1zM1220 427h1v1h-1zM1221 413h1v15h-1zM1222 401h1v18h-1zM1223 397h1v5h-1zM1223 418h1v1h-1zM1224 401h1v18h-1zM1225 402h1v5h-1zM1226 398h1v12h-1zM1227 402h1v5h-1zM1228 399h1v10h-1zM1229 398h1v21h-1zM1230 399h1v10h-1zM1231 402h1v15h-1zM1232 404h1v2h-1zM1233 400h1v2h-1zM1234 392h1v17h-1zM1235 400h1v2h-1zM1236 381h1v18h-1zM1237 380h1v2h-1zM1237 398h1v11h-1zM1238 381h1v18h-1zM1239 358h1v32h-1zM1240 358h1v41h-1zM1241 358h1v32h-1zM1242 387h1v20h-1zM1243 386h1v21h-1zM1244 387h1v20h-1zM1245 406h1v8h-1zM1246 395h1v21h-1zM1247 403h1v11h-1zM1248 402h1v15h-1zM1249 403h1v6h-1zM1250 398h1v8h-1zM1251 397h1v9h-1zM1252 398h1v8h-1zM1253 411h1v7h-1zM1254 399h1v25h-1zM1255 411h1v7h-1zM1256 410h1v14h-1zM1257 410h1v1h-1zM1257 423h1v1h-1zM1258 410h1v14h-1zM1259 385h1v12h-1zM1260 384h1v2h-1zM1260 396h1v23h-1zM1261 385h1v13h-1zM1262 378h1v8h-1zM1262 397h1v11h-1zM1263 385h1v13h-1zM1264 373h1v15h-1zM1265 364h1v10h-1zM1265 387h1v11h-1zM1266 373h1v15h-1zM1267 336h1v36h-1zM1268 330h1v7h-1zM1268 371h1v1h-1zM1269 336h1v36h-1zM1270 338h1v8h-1zM1271 324h1v22h-1zM1272 338h1v8h-1zM1273 304h1v27h-1zM1274 286h1v45h-1zM1275 296h1v35h-1zM1276 295h1v2h-1zM1276 309h1v18h-1zM1277 296h1v14h-1zM1278 306h1v24h-1zM1279 298h1v38h-1zM1280 306h1v24h-1zM1281 260h1v30h-1zM1282 260h1v1h-1zM1282 289h1v1h-1zM1283 260h1v30h-1zM1284 216h1v36h-1zM1285 216h1v1h-1zM1285 251h1v21h-1zM1286 216h1v36h-1zM1287 211h1v14h-1zM1288 192h1v33h-1zM1289 211h1v14h-1zM1290 211h1v13h-1zM1291 196h1v42h-1zM1292 211h1v13h-1zM1293 204h1v11h-1zM1293 219h1v27h-1zM1294 214h1v6h-1zM1295 206h1v62h-1zM1296 202h1v67h-1zM1297 206h1v62h-1zM1298 299h1v28h-1zM1299 273h1v54h-1zM1300 299h1v28h-1zM1301 317h1v7h-1zM1302 316h1v2h-1zM1302 323h1v27h-1zM1303 317h1v7h-1zM1304 311h1v14h-1zM1305 308h1v32h-1zM1306 306h1v4h-1zM1306 311h1v14h-1zM1307 279h1v41h-1zM1308 306h1v4h-1zM1309 301h1v5h-1zM1310 292h1v10h-1zM1310 305h1v11h-1zM1311 301h1v5h-1zM1312 294h1v15h-1zM1313 286h1v26h-1zM1314 294h1v15h-1zM1315 313h1v22h-1zM1316 302h1v52h-1zM1317 313h1v22h-1zM1318 328h1v6h-1zM1319 327h1v2h-1zM1319 333h1v13h-1zM1320 311h1v11h-1zM1320 328h1v6h-1zM1321 310h1v15h-1zM1322 311h1v11h-1zM1323 320h1v32h-1zM1324 320h1v38h-1zM1325 320h1v32h-1zM1326 335h1v23h-1zM1327 334h1v39h-1zM1328 335h1v23h-1zM1329 344h1v16h-1zM1330 340h1v5h-1zM1330 359h1v8h-1zM1331 344h1v16h-1zM1332 340h1v7h-1zM1333 320h1v21h-1zM1333 346h1v3h-1zM1334 340h1v7h-1zM1335 327h1v3h-1zM1336 326h1v2h-1zM1336 329h1v20h-1zM1337 327h1v3h-1zM1337 337h1v2h-1zM1338 320h1v20h-1zM1339 337h1v2h-1zM1340 346h1v2h-1zM1341 322h1v28h-1zM1342 346h1v2h-1zM1343 343h1v17h-1zM1344 331h1v13h-1zM1344 359h1v2h-1zM1345 343h1v17h-1zM1346 336h1v11h-1zM1347 330h1v7h-1zM1347 346h1v11h-1zM1348 336h1v11h-1zM1349 331h1v5h-1zM1350 306h1v26h-1zM1350 335h1v2h-1zM1351 307h1v35h-1zM1352 303h1v44h-1zM1353 307h1v35h-1zM1354 330h1v47h-1zM1355 330h1v48h-1zM1356 330h1v47h-1zM1357 376h1v18h-1zM1358 365h1v34h-1zM1359 376h1v18h-1zM1360 398h1v19h-1zM1361 386h1v43h-1zM1362 398h1v19h-1zM1363 410h1v5h-1zM1364 386h1v30h-1zM1365 410h1v7h-1zM1366 406h1v20h-1zM1367 413h1v4h-1zM1368 414h1v3h-1zM1369 405h1v18h-1zM1370 414h1v3h-1zM1371 417h1v2h-1zM1372 405h1v16h-1zM1373 417h1v2h-1zM1374 421h1v4h-1zM1375 411h1v19h-1zM1376 421h1v4h-1zM1377 418h1v2h-1zM1378 413h1v9h-1zM1379 418h1v2h-1zM1380 407h1v14h-1zM1381 399h1v9h-1zM1381 420h1v1h-1zM1382 407h1v14h-1zM1383 396h1v14h-1zM1384 407h1v2h-1zM1385 409h1v16h-1zM1386 403h1v24h-1zM1387 409h1v16h-1zM1388 421h1v7h-1zM1389 408h1v14h-1zM1389 427h1v8h-1zM1390 421h1v7h-1zM1391 425h1v3h-1zM1392 419h1v19h-1zM1393 425h1v3h-1zM1394 426h1v3h-1zM1395 424h1v15h-1zM1396 426h1v14h-1zM1397 422h1v18h-1zM1398 426h1v14h-1zM1399 417h1v15h-1zM1400 414h1v4h-1zM1400 431h1v13h-1zM1401 417h1v15h-1zM1402 419h1v2h-1zM1403 401h1v20h-1zM1404 419h1v2h-1zM1405 412h1v3h-1zM1406 403h1v22h-1zM1407 412h1v3h-1zM1408 418h1v2h-1zM1409 415h1v10h-1zM1410 413h1v4h-1zM1410 418h1v2h-1zM1411 410h1v12h-1zM1412 413h1v4h-1zM1413 410h1v7h-1zM1414 409h1v14h-1zM1415 410h1v7h-1zM1416 420h1v4h-1zM1417 410h1v11h-1zM1417 423h1v1h-1zM1418 420h1v4h-1zM1419 415h1v9h-1zM1420 412h1v4h-1zM1420 423h1v1h-1zM1421 415h1v9h-1zM1422 415h1v3h-1zM1423 410h1v8h-1zM1424 415h1v3h-1zM1425 417h1v2h-1zM1426 412h1v12h-1zM1427 417h1v2h-1zM1427 420h1v2h-1zM1428 413h1v10h-1zM1429 420h1v2h-1zM1430 421h1v6h-1zM1431 421h1v6h-1zM1432 421h1v6h-1zM1433 424h1v4h-1zM1434 416h1v9h-1zM1434 427h1v1h-1zM1435 424h1v4h-1zM1436 417h1v10h-1zM1437 416h1v14h-1zM1438 417h1v10h-1zM1439 419h1v7h-1zM1440 415h1v5h-1zM1440 425h1v4h-1zM1441 416h1v12h-1zM1442 416h1v12h-1zM1443 416h1v12h-1zM1444 429h1v13h-1zM1445 429h1v14h-1zM1446 429h1v13h-1zM1447 434h1v4h-1zM1448 427h1v14h-1zM1449 434h1v4h-1zM1450 439h1v4h-1zM1451 435h1v8h-1zM1452 439h1v4h-1zM1453 430h1v8h-1zM1454 417h1v14h-1zM1454 437h1v1h-1zM1455 430h1v8h-1zM1456 424h1v16h-1zM1457 434h1v2h-1zM1458 429h1v10h-1zM1459 416h1v23h-1zM1460 429h1v10h-1zM1461 431h1v18h-1zM1462 430h1v19h-1zM1463 431h1v18h-1zM1464 449h1v2h-1zM1465 449h1v19h-1zM1466 449h1v2h-1zM1467 445h1v5h-1zM1468 440h1v18h-1zM1469 445h1v5h-1zM1470 452h1v2h-1zM1471 449h1v19h-1zM1472 449h1v2h-1zM1472 452h1v2h-1zM1473 444h1v14h-1zM1474 449h1v2h-1zM1475 446h1v3h-1zM1476 439h1v10h-1zM1477 446h1v3h-1zM1478 446h1v6h-1zM1479 441h1v6h-1zM1479 451h1v1h-1zM1480 446h1v6h-1zM1481 443h1v5h-1zM1482 437h1v7h-1zM1482 447h1v1h-1zM1483 443h1v5h-1zM1484 443h1v5h-1zM1485 438h1v11h-1zM1486 440h1v16h-1zM1487 440h1v18h-1zM1488 440h1v16h-1zM1489 452h1v4h-1zM1490 444h1v9h-1zM1490 455h1v1h-1zM1491 452h1v4h-1zM1492 439h1v10h-1zM1493 438h1v2h-1zM1493 448h1v5h-1zM1494 439h1v10h-1zM1495 430h1v10h-1zM1496 423h1v8h-1zM1496 439h1v4h-1zM1497 430h1v10h-1zM1498 427h1v11h-1zM1499 426h1v2h-1zM1499 437h1v1h-1zM1500 409h1v6h-1zM1500 427h1v11h-1zM1501 399h1v28h-1zM1502 409h1v6h-1zM1503 415h1v3h-1zM1504 396h1v20h-1zM1504 417h1v1h-1zM1505 415h1v3h-1zM1506 418h1v9h-1zM1507 411h1v21h-1zM1508 418h1v9h-1zM1509 418h1v2h-1zM1510 417h1v7h-1zM1511 418h1v2h-1zM1512 418h1v6h-1zM1513 417h1v10h-1zM1514 418h1v6h-1zM1515 412h1v11h-1zM1516 405h1v8h-1zM1516 422h1v2h-1zM1517 412h1v11h-1zM1518 409h1v6h-1zM1518 417h1v6h-1zM1519 414h1v4h-1zM1520 421h1v3h-1zM1521 408h1v14h-1zM1521 423h1v2h-1zM1522 421h1v3h-1zM1523 417h1v14h-1zM1524 417h1v14h-1zM1525 417h1v14h-1zM1526 425h1v7h-1zM1527 424h1v2h-1zM1527 431h1v3h-1zM1528 425h1v7h-1zM1529 425h1v2h-1zM1530 420h1v8h-1zM1531 425h1v2h-1zM1531 429h1v7h-1zM1532 420h1v19h-1zM1533 429h1v7h-1zM1534 434h1v2h-1zM1535 430h1v7h-1zM1536 434h1v2h-1zM1537 428h1v10h-1zM1538 428h1v12h-1zM1539 428h1v10h-1zM1540 425h1v6h-1zM1541 424h1v2h-1zM1541 430h1v16h-1zM1542 425h1v6h-1zM1543 422h1v2h-1zM1544 409h1v15h-1z"/>
<path fill="#fff" d="M11 674h1v1h-1zM16 660h1v3h-1zM22 653h1v5h-1zM36 650h1v5h-1zM45 642h1v3h-1zM53 638h1v4h-1zM61 626h1v8h-1zM90 642h1v1h-1zM101 643h1v1h-1zM106 638h1v3h-1zM112 631h1v1h-1zM123 617h1v4h-1zM126 607h1v6h-1zM129 597h1v3h-1zM135 591h1v6h-1zM160 591h1v4h-1zM165 584h1v4h-1zM168 568h1v6h-1zM177 547h1v2h-1zM180 538h1v7h-1zM182 519h1v9h-1zM188 507h1v2h-1zM205 523h1v12h-1zM213 504h1v25h-1zM236 519h1v13h-1zM241 499h1v10h-1zM253 483h1v4h-1zM258 465h1v11h-1zM261 451h1v6h-1zM264 423h1v13h-1zM267 393h1v13h-1zM270 362h1v15h-1zM272 334h1v13h-1zM284 367h1v14h-1zM289 385h1v18h-1zM292 374h1v21h-1zM295 340h1v20h-1zM298 323h1v2h-1zM303 300h1v11h-1zM306 262h1v21h-1zM320 287h1v11h-1zM326 271h1v28h-1zM331 281h1v43h-1zM334 241h1v19h-1zM337 195h1v20h-1zM340 141h1v26h-1zM343 111h1v35h-1zM354 180h1v22h-1zM357 135h1v18h-1zM360 109h1v15h-1zM376 265h1v29h-1zM407 317h1v42h-1zM410 287h1v33h-1zM413 270h1v7h-1zM416 223h1v23h-1zM421 229h1v30h-1zM441 339h1v1h-1zM450 346h1v13h-1zM452 339h1v2h-1zM455 324h1v27h-1zM461 292h1v28h-1zM464 247h1v22h-1zM469 194h1v42h-1zM478 181h1v40h-1zM480 127h1v26h-1zM489 201h1v14h-1zM497 252h1v15h-1zM500 249h1v14h-1zM523 331h1v13h-1zM545 331h1v27h-1zM548 329h1v3h-1zM551 302h1v11h-1zM593 353h1v2h-1zM641 455h1v18h-1zM644 452h1v7h-1zM649 439h1v11h-1zM669 423h1v11h-1zM675 413h1v11h-1zM680 405h1v28h-1zM683 397h1v5h-1zM686 390h1v17h-1zM705 401h1v10h-1zM714 385h1v10h-1zM717 360h1v23h-1zM720 337h1v20h-1zM722 313h1v24h-1zM725 293h1v5h-1zM731 289h1v11h-1zM736 226h1v36h-1zM739 223h1v4h-1zM762 337h1v7h-1zM765 317h1v11h-1zM767 289h1v33h-1zM776 333h1v7h-1zM784 358h1v2h-1zM795 387h1v10h-1zM801 382h1v3h-1zM807 383h1v16h-1zM840 414h1v2h-1zM843 409h1v5h-1zM863 425h1v1h-1zM880 441h1v2h-1zM883 434h1v1h-1zM891 432h1v3h-1zM931 405h1v20h-1zM936 387h1v16h-1zM942 406h1v3h-1zM947 388h1v16h-1zM950 385h1v2h-1zM953 380h1v15h-1zM959 367h1v20h-1zM961 364h1v12h-1zM970 383h1v4h-1zM981 417h1v6h-1zM987 419h1v6h-1zM998 412h1v1h-1zM1001 398h1v13h-1zM1015 405h1v2h-1zM1023 410h1v7h-1zM1029 407h1v10h-1zM1043 425h1v1h-1zM1054 425h1v2h-1zM1060 423h1v5h-1zM1077 423h1v8h-1zM1085 425h1v7h-1zM1105 447h1v1h-1zM1127 435h1v14h-1zM1130 429h1v12h-1zM1144 428h1v8h-1zM1150 426h1v5h-1zM1167 423h1v6h-1zM1172 420h1v3h-1zM1175 411h1v8h-1zM1186 412h1v21h-1zM1189 377h1v33h-1zM1198 371h1v13h-1zM1206 367h1v10h-1zM1220 414h1v13h-1zM1223 402h1v16h-1zM1237 382h1v16h-1zM1257 411h1v12h-1zM1260 386h1v10h-1zM1262 386h1v11h-1zM1265 374h1v13h-1zM1268 337h1v34h-1zM1276 297h1v12h-1zM1282 261h1v28h-1zM1285 217h1v34h-1zM1293 215h1v4h-1zM1302 318h1v5h-1zM1310 302h1v3h-1zM1319 329h1v4h-1zM1330 345h1v14h-1zM1333 341h1v5h-1zM1336 328h1v1h-1zM1344 344h1v15h-1zM1347 337h1v9h-1zM1350 332h1v3h-1zM1381 408h1v12h-1zM1389 422h1v5h-1zM1400 418h1v13h-1zM1417 421h1v2h-1zM1420 416h1v7h-1zM1434 425h1v2h-1zM1440 420h1v5h-1zM1454 431h1v6h-1zM1479 447h1v4h-1zM1482 444h1v3h-1zM1490 453h1v2h-1zM1493 440h1v8h-1zM1496 431h1v8h-1zM1499 428h1v9h-1zM1504 416h1v1h-1zM1516 413h1v9h-1zM1518 415h1v2h-1zM1521 422h1v1h-1zM1527 426h1v5h-1zM1541 426h1v4h-1z"/>
</g>
<g transform="translate(10 771.8) scale(0.55)" fill="#131722"><path d="M14 22H7V11H0V4h14v18zM28 22h-8l7.5-18h8L28 22z"/><circle cx="20" cy="8" r="4"/></g>
</svg>
<div class="lg" id="l1a" style="left:18px;top:16px"><span class="fa">پارسیان-بیمه پارسیان</span>, 2D, <span class="fa b2">بورس</span></div>
<div class="lg nm" style="left:162px;top:16px">O3060</div>
<div class="lg nm" style="left:203px;top:16px">H3200</div>
<div class="lg nm" style="left:243px;top:16px">L3040</div>
<div class="lg nm" style="left:281px;top:16px">C3200</div>
<div class="lg" style="left:320.5px;top:16px">+161 (+5.30%)</div>
<div class="lg" style="left:18px;top:34px">Volume (SMA, 9)</div>
<div class="lg" style="left:113px;top:34px;color:#26a69a">15.05M</div>
<div class="pl" style="top:7px">7200</div><div class="pl" style="top:47px">6800</div><div class="pl" style="top:86px">6400</div><div class="pl" style="top:126px">6000</div><div class="pl" style="top:165px">5600</div><div class="pl" style="top:204px">5200</div><div class="pl" style="top:244px">4800</div><div class="pl" style="top:283px">4400</div><div class="pl" style="top:323px">4000</div><div class="pl" style="top:362px">3600</div><div class="pl" style="top:402px">3200</div><div class="pl" style="top:441px">2800</div><div class="pl" style="top:481px">2400</div><div class="pl" style="top:520px">2000</div><div class="pl" style="top:560px">1600</div><div class="pl" style="top:599px">1200</div><div class="pl" style="top:639px">800</div><div class="pl" style="top:678px">400</div>
<div id="taxis"><div class="tl b" style="left:127.1px">2020</div><div class="tl" style="left:211.3px">Apr</div><div class="tl" style="left:292.8px">Jul</div><div class="tl" style="left:379.8px">Oct</div><div class="tl b" style="left:472.7px">2021</div><div class="tl" style="left:560.0px">Apr</div><div class="tl" style="left:647.3px">Jul</div><div class="tl" style="left:731.4px">Oct</div><div class="tl b" style="left:821.9px">2022</div><div class="tl" style="left:928.2px">May</div><div class="tl" style="left:1010.1px">Aug</div><div class="tl b" style="left:1153.3px">2023</div><div class="tl" style="left:1240.7px">Apr</div><div class="tl" style="left:1347.4px">Aug</div><div class="tl b" style="left:1502.4px">2024</div><div class="tl" style="left:1595.0px">Apr</div><div class="tl" style="left:1684.9px">Jul</div></div>
<div id="vlab"><span>15.05M</span></div>
<div id="wm1"><span>انجمن خبرگان سرمایه گذاری ایران</span></div>
<div id="wm2">Amoozesh-boors.ir</div>
<div id="tv">TradingView</div>
</body></html>
